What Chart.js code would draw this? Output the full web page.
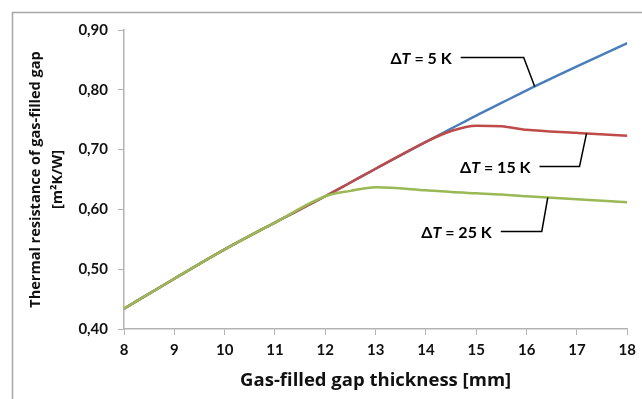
<!DOCTYPE html>
<html>
<head>
<meta charset="utf-8">
<script src="https://cdn.jsdelivr.net/npm/chart.js@4.4.1/dist/chart.umd.min.js"></script>
<style>
  html, body { margin: 0; padding: 0; background: #fff; overflow: hidden; }
  canvas { display: block; }
</style>
</head>
<body>
<canvas id="chart" width="642" height="399"></canvas>
<script>
/* global Chart */

// gap thickness [mm]
const thickness = [8, 9, 10, 11, 12, 12.5, 13, 14, 14.5, 15, 15.5, 16, 17, 18];

// thermal resistance [m2K/W] per temperature difference
const dT5 = [0.434, 0.484, 0.533, 0.578, 0.622, 0.645, 0.668, 0.713, 0.735, 0.757, 0.778, 0.799, 0.839, 0.878];
const dT15 = [0.434, 0.484, 0.533, 0.578, 0.622, 0.645, 0.668, 0.713, 0.731, 0.740, 0.739, 0.733, 0.728, 0.723];
const dT25 = [0.434, 0.484, 0.533, 0.578, 0.622, 0.631, 0.637, 0.632, 0.629, 0.627, 0.625, 0.622, 0.617, 0.612];

const xTicks = [8, 9, 10, 11, 12, 13, 14, 15, 16, 17, 18];
const yTicks = [0.4, 0.5, 0.6, 0.7, 0.8, 0.9];

const FONT = 'Lato, "Open Sans", sans-serif';
const TITLE_FONT = '"Open Sans", Lato, sans-serif';
const TEXT = '#111';
const AXIS = '#b3b3b3';

function toPoints(values) {
  return thickness.map((x, i) => ({ x, y: values[i] }));
}

function valueAt(values, x) {
  for (let i = 1; i < thickness.length; i++) {
    if (x <= thickness[i]) {
      const t = (x - thickness[i - 1]) / (thickness[i] - thickness[i - 1]);
      return values[i - 1] + t * (values[i] - values[i - 1]);
    }
  }
  return values[values.length - 1];
}

// leader-line labels: anchor on a curve, elbow offset, horizontal run
const labels = [
  { num: '5', series: dT5, at: 16.16, dx: -11, dy: -29, run: 63 },
  { num: '15', series: dT15, at: 17.19, dx: -7, dy: 33, run: 40 },
  { num: '25', series: dT25, at: 16.42, dx: -6, dy: 34, run: 41 },
];

// outer chart frame (left and top edges, the rest is cut off)
const framePlugin = {
  id: 'frame',
  beforeDraw(chart) {
    const { ctx } = chart;
    ctx.save();
    ctx.strokeStyle = '#a6a6a6';
    ctx.lineWidth = 1.5;
    ctx.beginPath();
    ctx.moveTo(12.5, chart.height + 2);
    ctx.lineTo(12.5, 12.5);
    ctx.lineTo(chart.width + 2, 12.5);
    ctx.stroke();
    ctx.restore();
  },
};

const leaderPlugin = {
  id: 'leaders',
  afterDatasetsDraw(chart) {
    const { ctx, scales: { x, y } } = chart;
    ctx.save();
    ctx.strokeStyle = '#000';
    ctx.lineWidth = 1.5;
    ctx.fillStyle = '#000';
    ctx.textBaseline = 'middle';
    labels.forEach((l) => {
      const px = x.getPixelForValue(l.at);
      const py = y.getPixelForValue(valueAt(l.series, l.at));
      const ex = px + l.dx;
      const ey = py + l.dy;
      const hx = ex - l.run;
      ctx.beginPath();
      ctx.moveTo(px, py);
      ctx.lineTo(ex, ey);
      ctx.lineTo(hx, ey);
      ctx.stroke();

      // "ΔT = n K" with italic T, right aligned before the leader
      const parts = [
        { s: '\u0394', f: 'bold 16px ' + FONT },
        { s: 'T', f: 'italic bold 16px ' + FONT },
        { s: ' = ' + l.num + ' K', f: 'bold 16px ' + FONT },
      ];
      let w = 0;
      parts.forEach((p) => { ctx.font = p.f; w += ctx.measureText(p.s).width; });
      let tx = hx - 9 - w;
      ctx.textAlign = 'left';
      parts.forEach((p) => {
        ctx.font = p.f;
        ctx.fillText(p.s, tx, ey + 1);
        tx += ctx.measureText(p.s).width;
      });
    });
    ctx.restore();
  },
};

new Chart(document.getElementById('chart').getContext('2d'), {
  type: 'line',
  data: {
    datasets: [
      { label: '\u0394T = 25 K', data: toPoints(dT25), borderColor: '#98b954' },
      { label: '\u0394T = 15 K', data: toPoints(dT15), borderColor: '#be4b48' },
      { label: '\u0394T = 5 K', data: toPoints(dT5), borderColor: '#4a7ebb' },
    ].map((ds) => ({
      ...ds,
      borderWidth: 2.5,
      pointRadius: 0,
      fill: false,
      cubicInterpolationMode: 'monotone',
    })),
  },
  options: {
    responsive: false,
    animation: false,
    events: [],
    layout: { padding: { left: 0, top: 30, right: 14, bottom: 0 } },
    plugins: { legend: { display: false }, tooltip: { enabled: false } },
    scales: {
      x: {
        type: 'linear',
        min: 8,
        max: 18,
        afterBuildTicks: (s) => { s.ticks = xTicks.map((v) => ({ value: v })); },
        afterFit: (s) => { s.height = 70; },
        grid: { display: true, drawOnChartArea: false, drawTicks: true, tickLength: 6, color: AXIS, lineWidth: 1 },
        border: { color: AXIS, width: 1.5 },
        ticks: { color: TEXT, font: { family: FONT, size: 15, weight: 'bold' }, padding: 6, maxRotation: 0 },
        title: {
          display: true,
          text: 'Gas-filled gap thickness [mm]',
          color: TEXT,
          font: { family: TITLE_FONT, size: 18.5, weight: 'bold' },
          padding: { top: 0, bottom: 7 },
        },
      },
      y: {
        min: 0.4,
        max: 0.9,
        afterBuildTicks: (s) => { s.ticks = yTicks.map((v) => ({ value: v })); },
        afterFit: (s) => { s.width = 124; },
        grid: { display: true, drawOnChartArea: false, drawTicks: true, tickLength: 6, color: AXIS, lineWidth: 1 },
        border: { color: AXIS, width: 1.5 },
        ticks: {
          color: TEXT,
          font: { family: FONT, size: 15, weight: 'bold' },
          padding: 10,
          callback: (v) => v.toFixed(2).replace('.', ','),
        },
        title: {
          display: true,
          text: ['Thermal resistance of gas-filled gap', '[m\u00b2K/W]'],
          color: TEXT,
          font: { family: TITLE_FONT, size: 14.5, weight: 'bold', lineHeight: 1.5 },
          padding: { top: 25, bottom: 0 },
        },
      },
    },
  },
  plugins: [framePlugin, leaderPlugin],
});
</script>
</body>
</html>
